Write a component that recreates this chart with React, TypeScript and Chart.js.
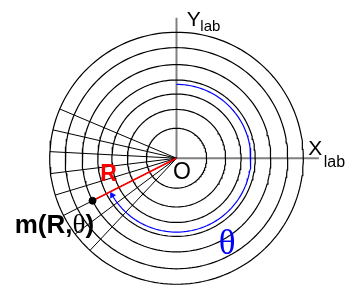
import { useEffect, useRef } from "react";
import { Chart, registerables } from "chart.js";

Chart.register(...registerables);

// Diagram data (data units, origin at O)
const circleRadii = [31, 50.5, 66.5, 81, 97, 114.5, 130.5];
const spokeAnglesDeg = [157, 167, 177, 187, 197, 207, 217, 227];
const spokeLength = 130.5;
const pointR = 97;
const pointThetaDeg = 207;
const arcRadius = 76.5;
const arcStartDeg = 90;
const arcEndDeg = -150;
const xAxisLength = 146.5;
const yAxisLength = 145.5;

const toRad = (d: number) => (d * Math.PI) / 180;
const polar = (r: number, deg: number) => ({ x: r * Math.cos(toRad(deg)), y: r * Math.sin(toRad(deg)) });

function circlePoints(r: number) {
  const pts = [] as { x: number; y: number }[];
  for (let i = 0; i <= 360; i += 2) pts.push(polar(r, i));
  return pts;
}

function arcPoints(r: number, a0: number, a1: number) {
  const pts = [] as { x: number; y: number }[];
  const n = 120;
  for (let i = 0; i <= n; i++) pts.push(polar(r, a0 + ((a1 - a0) * i) / n));
  return pts;
}

const labelPlugin = {
  id: "labels",
  afterDatasetsDraw(chart: any) {
    const { ctx, scales } = chart;
    const px = (v: number) => scales.x.getPixelForValue(v);
    const py = (v: number) => scales.y.getPixelForValue(v);
    ctx.save();
    ctx.textBaseline = "alphabetic";
    ctx.textAlign = "left";
    const sans = "'Liberation Sans', Arial, sans-serif";
    const serif = "'Liberation Serif', 'Times New Roman', serif";

    ctx.fillStyle = "#000";
    ctx.font = `21px ${sans}`;
    ctx.fillText("Y", px(10.5), py(136.7));
    ctx.font = `15px ${sans}`;
    ctx.fillText("lab", px(24.5), py(131.7));

    ctx.font = `21px ${sans}`;
    ctx.fillText("X", px(135.5), py(3.7));
    ctx.font = `16px ${sans}`;
    ctx.fillText("lab", px(151.5), py(-9.3));

    ctx.font = `23px ${sans}`;
    ctx.fillText("O", px(-3.5), py(-21.3));

    ctx.fillStyle = "#ff0000";
    ctx.font = `bold 23px ${sans}`;
    ctx.fillText("R", px(-78.5), py(-23.3));

    ctx.fillStyle = "#000";
    let x = px(-166.5);
    const by = py(-77);
    ctx.font = `bold 26px ${sans}`;
    ctx.fillText("m(R,", x, by);
    x += ctx.measureText("m(R,").width;
    ctx.font = `27px ${serif}`;
    ctx.fillText("θ", x, by);
    x += ctx.measureText("θ").width;
    ctx.font = `bold 26px ${sans}`;
    ctx.fillText(")", x, by);

    ctx.fillStyle = "#0000ff";
    ctx.font = `35px ${serif}`;
    ctx.fillText("θ", px(43.5), py(-99.3));
    ctx.restore();
  },
};

export default function App() {
  const ref = useRef<HTMLCanvasElement | null>(null);
  useEffect(() => {
    if (!ref.current) return;
    const base = { showLine: true, pointRadius: 0, fill: false, tension: 0 };
    const datasets: any[] = [];
    const pt = polar(pointR, pointThetaDeg);
    const arcEnd = polar(arcRadius, arcEndDeg);
    datasets.push({ ...base, data: [pt], showLine: false, pointRadius: 3.5, pointBackgroundColor: "#000", pointBorderColor: "#000", order: 0 });
    datasets.push({ ...base, data: [{ x: 0, y: 0 }, pt], borderColor: "#ff0000", borderWidth: 1.5, order: 1 });
    datasets.push({ ...base, data: [arcEnd], showLine: false, pointStyle: "triangle", rotation: -30, pointRadius: 3.5, pointBackgroundColor: "#0000ff", pointBorderColor: "#0000ff", pointBorderWidth: 0.5, order: 1 });
    datasets.push({ ...base, data: arcPoints(arcRadius, arcStartDeg, arcEndDeg), borderColor: "#0000ff", borderWidth: 1.2, order: 2 });
    circleRadii.forEach((r) => datasets.push({ ...base, data: circlePoints(r), borderColor: "#000", borderWidth: 1.2, order: 3 }));
    spokeAnglesDeg.forEach((a) => datasets.push({ ...base, data: [{ x: 0, y: 0 }, polar(spokeLength, a)], borderColor: "#000", borderWidth: 1, order: 4 }));
    datasets.push({ ...base, data: [{ x: 0, y: 0 }, { x: xAxisLength, y: 0 }], borderColor: "#808080", borderWidth: 2, order: 5 });
    datasets.push({ ...base, data: [{ x: 0, y: 0 }, { x: 0, y: yAxisLength }], borderColor: "#808080", borderWidth: 2, order: 5 });

    const chart = new Chart(ref.current, {
      type: "scatter",
      data: { datasets },
      options: {
        animation: false,
        responsive: false,
        maintainAspectRatio: false,
        events: [],
        layout: { padding: 0 },
        plugins: { legend: { display: false }, tooltip: { enabled: false } },
        scales: {
          x: { type: "linear", min: -176.5, max: 176.5, display: false },
          y: { type: "linear", min: -131.3, max: 158.7, display: false },
        },
      },
      plugins: [labelPlugin],
    });
    return () => chart.destroy();
  }, []);
  return (
    <div style={{ position: "fixed", left: 0, top: 0, width: 353, height: 290, background: "#fff" }}>
      <canvas ref={ref} width={353} height={290} />
    </div>
  );
}
